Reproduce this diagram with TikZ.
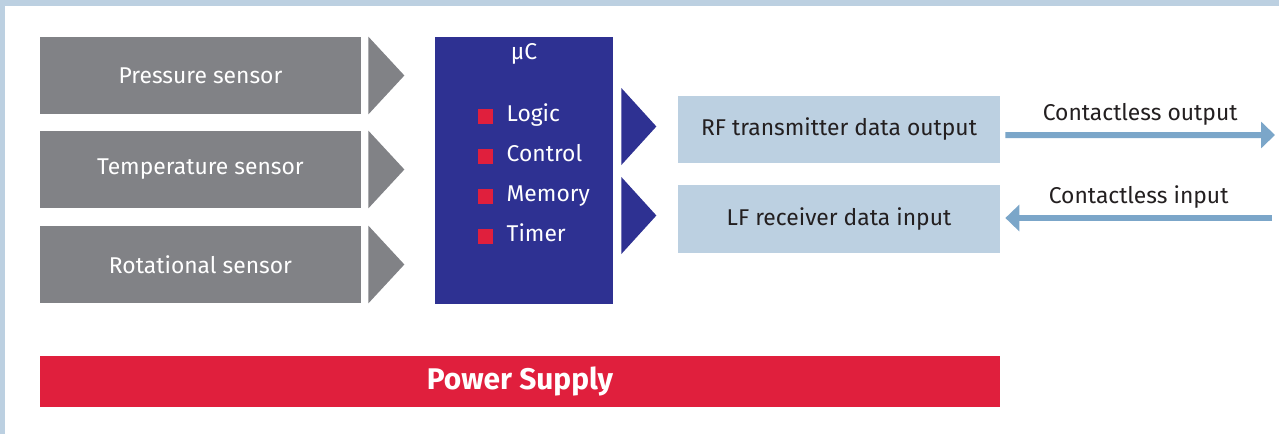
\documentclass[tikz,border=0pt]{standalone}
\usepackage{fontspec}
\setmainfont{Fira Sans}
\usetikzlibrary{arrows.meta, positioning, calc}

\definecolor{sensorgray}{HTML}{818286}
\definecolor{mcblue}{HTML}{2E3192}
\definecolor{supplyred}{HTML}{E01F3D}
\definecolor{paleblue}{HTML}{BCD0E1}
\definecolor{linkblue}{HTML}{7BA6C9}
\definecolor{darktext}{HTML}{231F20}

\begin{document}
\begin{tikzpicture}[
    sensor/.style={rectangle, fill=sensorgray, minimum width=6.42cm, minimum height=1.54cm, inner sep=0pt, text=white, font=\fontsize{13}{15}\selectfont},
    mcu/.style={rectangle, fill=mcblue, minimum width=3.56cm, minimum height=5.34cm, inner sep=0pt},
    item/.style={anchor=west, inner sep=0pt, text height=9.5pt, text depth=3pt, text=white, font=\fontsize{13}{15}\selectfont},
    bullet/.style={rectangle, fill=supplyred, minimum size=0.3cm, inner sep=0pt},
    datablock/.style={rectangle, fill=paleblue, minimum width=6.44cm, minimum height=1.35cm, inner sep=0pt, text=darktext, font=\fontsize{13}{15}\selectfont},
    link/.style={-{Triangle[length=0.28cm, width=0.52cm]}, line width=0.12cm, draw=linkblue},
    linklabel/.style={midway, above=0.13cm, inner sep=0pt, text=darktext, font=\fontsize{13}{15}\selectfont}
]

% frame
\useasboundingbox (0,0) rectangle (25.58,8.68);
\fill[white] (0,0) rectangle (25.58,8.68);
\fill[paleblue] (0,8.56) rectangle (25.58,8.68);
\fill[paleblue] (0,0) rectangle (0.1,8.68);

% ==================== Sensors ====================
\node[sensor] (press) at (4.01, 7.17) {Pressure sensor};
\node[sensor] (temp)  at (4.01, 5.29) {Temperature sensor};
\node[sensor] (rot)   at (4.01, 3.39) {Rotational sensor};

\foreach \s in {press, temp, rot}
  \fill[sensorgray] ($(\s.north east)+(0.14,0)$) -- ($(\s.east)+(0.86,0)$) -- ($(\s.south east)+(0.14,0)$) -- cycle;

% ==================== Microcontroller ====================
\node[mcu] (mc) at (10.48, 5.27) {};
\node[item, anchor=center] (mctitle) at (10.48, 7.6) {µC};

\node[bullet] (b1) at (9.71, 6.36) {};
\node[item, right=0.26cm of b1] (logic) {Logic};
\node[bullet] (b2) at (9.71, 5.56) {};
\node[item, right=0.26cm of b2] (ctrl) {Control};
\node[bullet] (b3) at (9.71, 4.76) {};
\node[item, right=0.26cm of b3] (mem) {Memory};
\node[bullet] (b4) at (9.71, 3.96) {};
\node[item, right=0.26cm of b4] (timer) {Timer};

% ==================== RF / LF ====================
\node[datablock] (rf) at (16.78, 6.09) {RF transmitter data output};
\node[datablock] (lf) at (16.78, 4.30) {LF receiver data input};

\fill[mcblue] ($(mc.east |- rf.east)+(0.16,0.83)$) -- ($(mc.east |- rf.east)+(0.86,0.06)$) -- ($(mc.east |- rf.east)+(0.16,-0.71)$) -- cycle;
\fill[mcblue] ($(mc.east |- lf.east)+(0.16,0.84)$) -- ($(mc.east |- lf.east)+(0.86,0.07)$) -- ($(mc.east |- lf.east)+(0.16,-0.70)$) -- cycle;

% contactless links
\coordinate (outstart) at ($(rf.east)+(0.1,-0.11)$);
\coordinate (outend) at (25.5, 5.98);
\coordinate (instart) at (25.44, 4.32);
\coordinate (inend) at ($(lf.east)+(0.1,0.02)$);

\draw[link] (outstart) -- (outend) node[linklabel] {Contactless output};
\draw[link] (instart) -- (inend) node[linklabel] {Contactless input};

% ==================== Power Supply ====================
\node[rectangle, fill=supplyred, minimum width=19.2cm, minimum height=1.02cm, inner sep=0pt, text=white, font=\fontsize{17}{19}\selectfont\bfseries] (power) at (10.4, 1.05) {Power Supply};

\end{tikzpicture}
\end{document}
